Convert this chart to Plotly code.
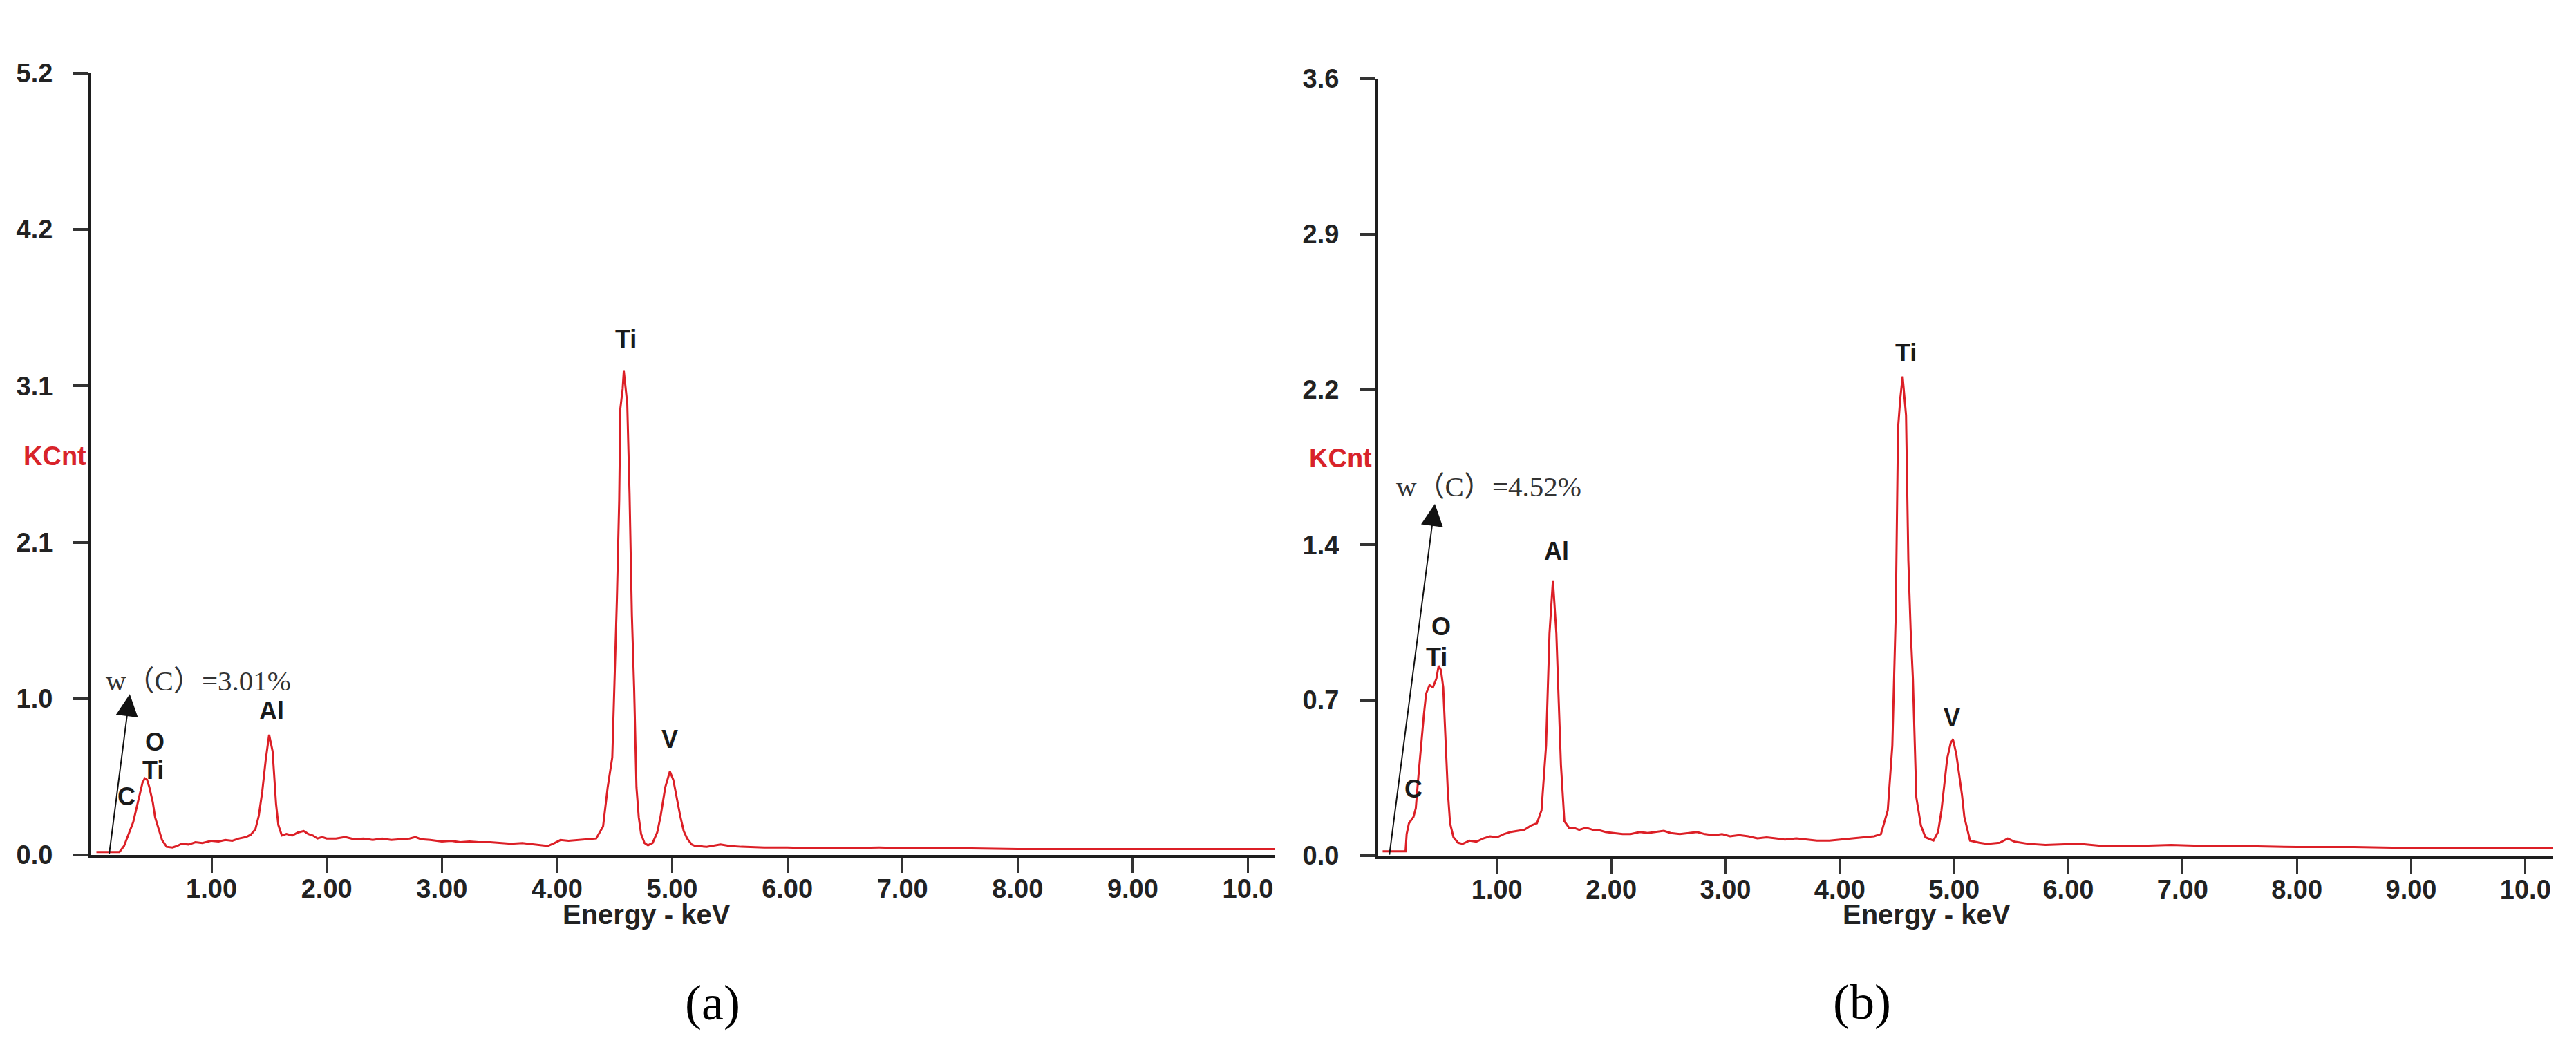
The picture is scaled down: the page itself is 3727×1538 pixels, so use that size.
import plotly.graph_objects as go

# ---------------- data ----------------
energy_a = [0.00, 0.10, 0.20, 0.24, 0.28, 0.32, 0.36, 0.40, 0.42, 0.44, 0.46, 0.49, 0.51, 0.54, 0.57, 0.61,
            0.66, 0.70, 0.74, 0.80, 0.86, 0.92, 1.00, 1.06, 1.12, 1.18, 1.24, 1.30, 1.34, 1.38, 1.41, 1.44,
            1.47, 1.50, 1.53, 1.56, 1.58, 1.61, 1.65, 1.70, 1.75, 1.80, 1.84, 1.88, 1.92, 1.96, 2.00, 2.08,
            2.16, 2.24, 2.32, 2.40, 2.48, 2.56, 2.64, 2.72, 2.77, 2.82, 2.90, 3.00, 3.08, 3.16, 3.24, 3.32,
            3.42, 3.50, 3.60, 3.70, 3.80, 3.88, 3.92, 3.98, 4.03, 4.10, 4.18, 4.26, 4.34, 4.40, 4.44, 4.48,
            4.52, 4.54, 4.55, 4.57, 4.58, 4.61, 4.63, 4.65, 4.67, 4.69, 4.71, 4.73, 4.76, 4.79, 4.83, 4.87,
            4.90, 4.94, 4.98, 5.01, 5.04, 5.07, 5.10, 5.13, 5.17, 5.20, 5.30, 5.42, 5.50, 5.60, 5.80, 6.00,
            6.20, 6.50, 6.80, 7.00, 7.50, 8.00, 8.50, 9.00, 9.50, 10.00, 10.24]
counts_a = [0.02, 0.02, 0.02, 0.06, 0.14, 0.22, 0.35, 0.48, 0.51, 0.50, 0.45, 0.35, 0.25, 0.17, 0.10, 0.055,
            0.05, 0.06, 0.075, 0.07, 0.085, 0.08, 0.095, 0.09, 0.10, 0.095, 0.11, 0.12, 0.135, 0.17, 0.26, 0.42,
            0.63, 0.80, 0.69, 0.34, 0.20, 0.13, 0.14, 0.13, 0.15, 0.16, 0.14, 0.13, 0.11, 0.12, 0.11, 0.11,
            0.12, 0.105, 0.11, 0.10, 0.11, 0.10, 0.105, 0.11, 0.12, 0.105, 0.10, 0.09, 0.095, 0.085, 0.09, 0.085,
            0.085, 0.08, 0.075, 0.08, 0.07, 0.065, 0.06, 0.08, 0.10, 0.095, 0.10, 0.105, 0.11, 0.19, 0.45, 0.65,
            1.70, 2.36, 2.97, 3.10, 3.22, 3.00, 2.40, 1.60, 1.10, 0.45, 0.25, 0.14, 0.08, 0.065, 0.08, 0.15,
            0.26, 0.45, 0.556, 0.50, 0.38, 0.26, 0.16, 0.11, 0.07, 0.06, 0.055, 0.07, 0.06, 0.055, 0.05, 0.05,
            0.045, 0.045, 0.05, 0.045, 0.045, 0.04, 0.04, 0.04, 0.04, 0.04, 0.04]

energy_b = [0.00, 0.10, 0.20, 0.21, 0.23, 0.27, 0.29, 0.31, 0.33, 0.36, 0.38, 0.41, 0.44, 0.47, 0.49, 0.51,
            0.53, 0.55, 0.57, 0.59, 0.62, 0.66, 0.70, 0.76, 0.82, 0.88, 0.94, 1.00, 1.06, 1.12, 1.18, 1.24,
            1.30, 1.35, 1.39, 1.43, 1.46, 1.49, 1.52, 1.54, 1.56, 1.59, 1.63, 1.67, 1.72, 1.78, 1.84, 1.88,
            1.95, 2.02, 2.10, 2.17, 2.25, 2.32, 2.40, 2.46, 2.52, 2.60, 2.68, 2.75, 2.82, 2.90, 2.97, 3.04,
            3.12, 3.20, 3.28, 3.36, 3.44, 3.52, 3.62, 3.70, 3.80, 3.91, 4.00, 4.10, 4.20, 4.30, 4.36, 4.42,
            4.46, 4.49, 4.51, 4.53, 4.55, 4.58, 4.60, 4.62, 4.64, 4.67, 4.71, 4.75, 4.82, 4.86, 4.89, 4.94,
            4.97, 4.99, 5.02, 5.04, 5.07, 5.09, 5.14, 5.22, 5.29, 5.40, 5.47, 5.53, 5.65, 5.80, 6.09, 6.30,
            6.60, 6.90, 7.20, 7.50, 8.00, 8.50, 9.00, 9.50, 10.00, 10.24]
counts_b = [0.02, 0.02, 0.02, 0.10, 0.15, 0.18, 0.22, 0.35, 0.48, 0.65, 0.75, 0.79, 0.78, 0.82, 0.88, 0.86,
            0.78, 0.55, 0.30, 0.15, 0.085, 0.06, 0.055, 0.07, 0.065, 0.08, 0.09, 0.085, 0.10, 0.11, 0.115, 0.12,
            0.14, 0.15, 0.21, 0.51, 1.03, 1.275, 1.03, 0.70, 0.42, 0.16, 0.13, 0.13, 0.12, 0.13, 0.12, 0.12,
            0.11, 0.105, 0.10, 0.10, 0.11, 0.105, 0.11, 0.115, 0.105, 0.10, 0.105, 0.11, 0.10, 0.095, 0.10, 0.09,
            0.095, 0.09, 0.08, 0.085, 0.08, 0.075, 0.08, 0.075, 0.07, 0.07, 0.075, 0.08, 0.085, 0.09, 0.10, 0.21,
            0.51, 1.12, 1.98, 2.12, 2.22, 2.04, 1.37, 1.05, 0.82, 0.27, 0.14, 0.085, 0.07, 0.11, 0.21, 0.45,
            0.52, 0.54, 0.47, 0.39, 0.28, 0.18, 0.07, 0.06, 0.055, 0.06, 0.08, 0.065, 0.055, 0.05, 0.055, 0.045,
            0.045, 0.05, 0.045, 0.045, 0.04, 0.04, 0.035, 0.035, 0.035, 0.035]

x_tickvals = [1, 2, 3, 4, 5, 6, 7, 8, 9, 10]
x_ticktext = ["1.00", "2.00", "3.00", "4.00", "5.00", "6.00", "7.00", "8.00", "9.00", "10.0"]
y_tickvals_a = [0, 1.04, 2.08, 3.12, 4.16, 5.2]
y_ticktext_a = ["0.0", "1.0", "2.1", "3.1", "4.2", "5.2"]
y_tickvals_b = [0, 0.72, 1.44, 2.16, 2.88, 3.6]
y_ticktext_b = ["0.0", "0.7", "1.4", "2.2", "2.9", "3.6"]

# peak labels: (text, energy, kcnt)
peaks_a = [("Ti", 4.60, 3.43), ("Al", 1.52, 0.96), ("O", 0.51, 0.75), ("Ti", 0.49, 0.565),
           ("C", 0.26, 0.39), ("V", 4.98, 0.77)]
peaks_b = [("Ti", 4.58, 2.33), ("Al", 1.52, 1.41), ("O", 0.51, 1.06), ("Ti", 0.47, 0.92),
           ("C", 0.27, 0.31), ("V", 4.98, 0.64)]
carbon_a = "w（C）=3.01%"
carbon_b = "w（C）=4.52%"

W, H = 3727, 1538
RED = "#dc1f26"
AX = "#1e1e1e"

fig = go.Figure()
fig.add_trace(go.Scatter(x=energy_a, y=counts_a, mode="lines", line=dict(color=RED, width=3),
                         xaxis="x", yaxis="y", showlegend=False))
fig.add_trace(go.Scatter(x=energy_b, y=counts_b, mode="lines", line=dict(color=RED, width=3),
                         xaxis="x2", yaxis="y2", showlegend=False))

tickfont = dict(family="Liberation Sans", size=38, color="#222222", weight="bold")

def xaxis(domain, anchor):
    return dict(domain=domain, anchor=anchor, range=[-0.045, 10.237], showgrid=False, zeroline=False,
                showline=True, linecolor=AX, linewidth=5, ticks="outside", ticklen=21, tickwidth=3,
                tickcolor="#333333", tickvals=x_tickvals, ticktext=x_ticktext, tickfont=tickfont,
                ticklabelstandoff=-10, fixedrange=True)

def yaxis(domain, anchor, top, tv, tt):
    return dict(domain=domain, anchor=anchor, range=[0, top], showgrid=False, zeroline=False,
                showline=True, linecolor=AX, linewidth=4, ticks="outside", ticklen=22, tickwidth=4,
                tickcolor="#333333", tickvals=tv, ticktext=tt, tickfont=tickfont,
                ticklabelstandoff=22, fixedrange=True)

fig.update_layout(
    width=W, height=H, margin=dict(l=0, r=0, t=0, b=0),
    paper_bgcolor="white", plot_bgcolor="white",
    xaxis=xaxis([124 / W, 1837 / W], "y"),
    yaxis=yaxis([1 - 1242 / H, 1 - 79 / H], "x", 5.2, y_tickvals_a, y_ticktext_a),
    xaxis2=xaxis([1985 / W, 3685 / W], "y2"),
    yaxis2=yaxis([1 - 1243 / H, 1 - 87 / H], "x2", 3.6, y_tickvals_b, y_ticktext_b),
)

C = dict(xanchor="center", yanchor="middle", showarrow=False)
ann = []
lblfont = dict(family="Liberation Sans", size=36, color="#1a1a1a")
for (t, xv, yv) in peaks_a:
    ann.append(dict(text="<b>%s</b>" % t, x=xv, y=yv, xref="x", yref="y", font=lblfont, **C))
for (t, xv, yv) in peaks_b:
    ann.append(dict(text="<b>%s</b>" % t, x=xv, y=yv, xref="x2", yref="y2", font=lblfont, **C))

serif = dict(family="Liberation Serif, Noto Sans CJK SC", size=41, color="#333333")
ann.append(dict(text=carbon_a, x=0.885, y=1.16, xref="x", yref="y", font=serif, **C))
ann.append(dict(text=carbon_b, x=0.93, y=1.71, xref="x2", yref="y2", font=serif, **C))

# arrows
ann.append(dict(text="", x=0.29, y=1.07, xref="x", yref="y", ax=0.11, ay=0.0, axref="x", ayref="y",
                showarrow=True, arrowhead=2, arrowsize=3.2, arrowwidth=2, arrowcolor="#111111"))
ann.append(dict(text="", x=0.457, y=1.63, xref="x2", yref="y2", ax=0.058, ay=0.0, axref="x2", ayref="y2",
                showarrow=True, arrowhead=2, arrowsize=3.2, arrowwidth=2, arrowcolor="#111111"))

# axis titles / unit labels
ttl = dict(family="Liberation Sans", size=40, color="#222222")
ann.append(dict(text="<b>Energy - keV</b>", x=927 / W, y=1 - 1330 / H, xref="paper", yref="paper",
                font=ttl, **C))
ann.append(dict(text="<b>Energy - keV</b>", x=2779 / W, y=1 - 1330 / H, xref="paper", yref="paper",
                font=ttl, **C))
kc = dict(family="Liberation Sans", size=38, color="#d8232a")
ann.append(dict(text="<b>KCnt</b>", x=71 / W, y=1 - 649 / H, xref="paper", yref="paper", font=kc, **C))
ann.append(dict(text="<b>KCnt</b>", x=1931 / W, y=1 - 652 / H, xref="paper", yref="paper", font=kc, **C))

# panel labels
pl = dict(family="Liberation Serif", size=72, color="#000000")
ann.append(dict(text="(a)", x=1023 / W, y=1 - 1462 / H, xref="paper", yref="paper", font=pl, **C))
ann.append(dict(text="(b)", x=2686 / W, y=1 - 1461 / H, xref="paper", yref="paper", font=pl, **C))

fig.update_layout(annotations=ann)
fig.write_html("out.html")
